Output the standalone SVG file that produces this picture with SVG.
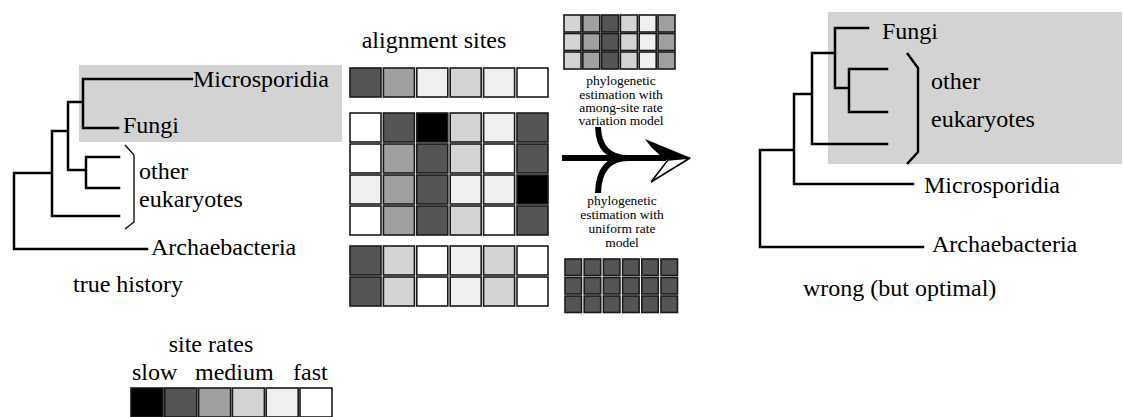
<svg xmlns="http://www.w3.org/2000/svg" width="1124" height="417" viewBox="0 0 1124 417">
<style>
text{font-family:"Liberation Serif","Times New Roman",serif;fill:#000}
.lbl{font-size:24px}
.sm{font-size:13.5px;text-anchor:middle}
.e{fill:none;stroke:#000;stroke-width:2.5;stroke-linecap:square}
.br{fill:none;stroke:#000;stroke-width:1.3}
.brt{fill:none;stroke:#000;stroke-width:2.4}
.hl{fill:#d3d3d3}
rect.c{stroke:#1a1a1a;stroke-width:1.6}
.k0{fill:#000}.k1{fill:#555}.k2{fill:#a0a0a0}.k3{fill:#d4d4d4}.k4{fill:#efefef}.k5{fill:#fff}
</style>

<!-- highlight boxes -->
<rect class="hl" x="79" y="65" width="263" height="77"/>
<rect class="hl" x="828" y="12" width="294" height="152"/>

<!-- connectors -->
<g id="connectors">
  <!-- left tree -->
  <path class="e" d="M83 79H192M83 79V128H118M68 102H83M68 102V170H86M86 157V188M86 157H119M86 188H119M52 131H68M52 131V216H119M14 173H52M14 173V249H147"/>
  <path class="br" d="M125 145L134 155V222L125 229"/>
  <!-- right tree -->
  <path class="e" d="M835 28H868M835 28V88H849M849 69V112M849 69H887M849 112H887M812 53H835M812 53V144H887M794 94H812M794 94V184H913M760 150H794M760 150V247H923"/>
  <path class="brt" d="M907 53L918 68V152L907 164"/>
  <!-- estimation arrow -->
  <g id="arrow">
    <path d="M562 158H666" fill="none" stroke="#000" stroke-width="6"/>
    <path d="M598 127Q599 158 628 158" fill="none" stroke="#000" stroke-width="6"/>
    <path d="M598 193Q599 158 628 158" fill="none" stroke="#000" stroke-width="6"/>
    <polygon points="690,158 651,182 668,160" fill="#fff" stroke="#000" stroke-width="1.6" stroke-linejoin="miter"/>
    <polygon points="645,139 691,158 665,160 651,147" fill="#000"/>
  </g>
</g>

<!-- left tree labels -->
<g id="left-microsporidia"><text class="lbl" x="193" y="87">Microsporidia</text></g>
<g id="left-fungi"><text class="lbl" x="123" y="133">Fungi</text></g>
<g id="left-other-eukaryotes"><text class="lbl" x="139" y="179">other</text><text class="lbl" x="139" y="207">eukaryotes</text></g>
<g id="left-archaebacteria"><text class="lbl" x="151" y="255">Archaebacteria</text></g>
<g id="left-caption"><text class="lbl" x="73" y="292">true history</text></g>

<!-- right tree labels -->
<g id="right-fungi"><text class="lbl" x="882" y="39">Fungi</text></g>
<g id="right-other-eukaryotes"><text class="lbl" x="931" y="89">other</text><text class="lbl" x="931" y="127">eukaryotes</text></g>
<g id="right-microsporidia"><text class="lbl" x="924" y="193">Microsporidia</text></g>
<g id="right-archaebacteria"><text class="lbl" x="932" y="252">Archaebacteria</text></g>
<g id="right-caption"><text class="lbl" x="803" y="296">wrong (but optimal)</text></g>

<!-- alignment grid -->
<g id="alignment">
  <text class="lbl" x="434" y="48" text-anchor="middle">alignment sites</text>
  <g id="row1">
    <rect class="c k1" x="350" y="68" width="31" height="29"/><rect class="c k2" x="383.4" y="68" width="31" height="29"/><rect class="c k4" x="416.8" y="68" width="31" height="29"/><rect class="c k3" x="450.2" y="68" width="31" height="29"/><rect class="c k4" x="483.6" y="68" width="31" height="29"/><rect class="c k5" x="517" y="68" width="31" height="29"/>
  </g>
  <g id="block2">
    <rect class="c k5" x="350" y="113" width="31" height="29"/><rect class="c k1" x="383.4" y="113" width="31" height="29"/><rect class="c k0" x="416.8" y="113" width="31" height="29"/><rect class="c k3" x="450.2" y="113" width="31" height="29"/><rect class="c k4" x="483.6" y="113" width="31" height="29"/><rect class="c k1" x="517" y="113" width="31" height="29"/>
    <rect class="c k5" x="350" y="144" width="31" height="29"/><rect class="c k2" x="383.4" y="144" width="31" height="29"/><rect class="c k1" x="416.8" y="144" width="31" height="29"/><rect class="c k3" x="450.2" y="144" width="31" height="29"/><rect class="c k5" x="483.6" y="144" width="31" height="29"/><rect class="c k1" x="517" y="144" width="31" height="29"/>
    <rect class="c k4" x="350" y="175" width="31" height="29"/><rect class="c k2" x="383.4" y="175" width="31" height="29"/><rect class="c k1" x="416.8" y="175" width="31" height="29"/><rect class="c k4" x="450.2" y="175" width="31" height="29"/><rect class="c k4" x="483.6" y="175" width="31" height="29"/><rect class="c k0" x="517" y="175" width="31" height="29"/>
    <rect class="c k5" x="350" y="206" width="31" height="29"/><rect class="c k2" x="383.4" y="206" width="31" height="29"/><rect class="c k1" x="416.8" y="206" width="31" height="29"/><rect class="c k3" x="450.2" y="206" width="31" height="29"/><rect class="c k5" x="483.6" y="206" width="31" height="29"/><rect class="c k1" x="517" y="206" width="31" height="29"/>
  </g>
  <g id="block3">
    <rect class="c k1" x="350" y="246" width="31" height="29"/><rect class="c k3" x="383.4" y="246" width="31" height="29"/><rect class="c k5" x="416.8" y="246" width="31" height="29"/><rect class="c k4" x="450.2" y="246" width="31" height="29"/><rect class="c k3" x="483.6" y="246" width="31" height="29"/><rect class="c k5" x="517" y="246" width="31" height="29"/>
    <rect class="c k1" x="350" y="277" width="31" height="29"/><rect class="c k3" x="383.4" y="277" width="31" height="29"/><rect class="c k5" x="416.8" y="277" width="31" height="29"/><rect class="c k4" x="450.2" y="277" width="31" height="29"/><rect class="c k3" x="483.6" y="277" width="31" height="29"/><rect class="c k5" x="517" y="277" width="31" height="29"/>
  </g>
</g>

<!-- among-site rate variation model -->
<g id="asrv-model">
  <g id="asrv-grid">
    <rect class="c k3" x="564" y="15" width="17" height="17"/><rect class="c k2" x="582.8" y="15" width="17" height="17"/><rect class="c k1" x="601.6" y="15" width="17" height="17"/><rect class="c k3" x="620.4" y="15" width="17" height="17"/><rect class="c k4" x="639.2" y="15" width="17" height="17"/><rect class="c k2" x="658" y="15" width="17" height="17"/>
    <rect class="c k3" x="564" y="33.5" width="17" height="17"/><rect class="c k2" x="582.8" y="33.5" width="17" height="17"/><rect class="c k1" x="601.6" y="33.5" width="17" height="17"/><rect class="c k3" x="620.4" y="33.5" width="17" height="17"/><rect class="c k4" x="639.2" y="33.5" width="17" height="17"/><rect class="c k2" x="658" y="33.5" width="17" height="17"/>
    <rect class="c k3" x="564" y="52" width="17" height="17"/><rect class="c k2" x="582.8" y="52" width="17" height="17"/><rect class="c k1" x="601.6" y="52" width="17" height="17"/><rect class="c k3" x="620.4" y="52" width="17" height="17"/><rect class="c k4" x="639.2" y="52" width="17" height="17"/><rect class="c k2" x="658" y="52" width="17" height="17"/>
  </g>
  <text class="sm" x="621" y="85">phylogenetic</text>
  <text class="sm" x="621" y="98.5">estimation with</text>
  <text class="sm" x="621" y="112">among-site rate</text>
  <text class="sm" x="621" y="125">variation model</text>
</g>

<!-- uniform rate model -->
<g id="uniform-model">
  <text class="sm" x="622" y="205">phylogenetic</text>
  <text class="sm" x="622" y="219">estimation with</text>
  <text class="sm" x="622" y="233">uniform rate</text>
  <text class="sm" x="622" y="247">model</text>
  <g id="uniform-grid">
    <rect class="c k1" x="565" y="259" width="16.5" height="16.5"/><rect class="c k1" x="584.2" y="259" width="16.5" height="16.5"/><rect class="c k1" x="603.4" y="259" width="16.5" height="16.5"/><rect class="c k1" x="622.6" y="259" width="16.5" height="16.5"/><rect class="c k1" x="641.8" y="259" width="16.5" height="16.5"/><rect class="c k1" x="661" y="259" width="16.5" height="16.5"/>
    <rect class="c k1" x="565" y="277.5" width="16.5" height="16.5"/><rect class="c k1" x="584.2" y="277.5" width="16.5" height="16.5"/><rect class="c k1" x="603.4" y="277.5" width="16.5" height="16.5"/><rect class="c k1" x="622.6" y="277.5" width="16.5" height="16.5"/><rect class="c k1" x="641.8" y="277.5" width="16.5" height="16.5"/><rect class="c k1" x="661" y="277.5" width="16.5" height="16.5"/>
    <rect class="c k1" x="565" y="296" width="16.5" height="16.5"/><rect class="c k1" x="584.2" y="296" width="16.5" height="16.5"/><rect class="c k1" x="603.4" y="296" width="16.5" height="16.5"/><rect class="c k1" x="622.6" y="296" width="16.5" height="16.5"/><rect class="c k1" x="641.8" y="296" width="16.5" height="16.5"/><rect class="c k1" x="661" y="296" width="16.5" height="16.5"/>
  </g>
</g>

<!-- legend -->
<g id="legend">
  <text class="lbl" x="211" y="352" text-anchor="middle">site rates</text>
  <text class="lbl" x="132" y="380">slow</text>
  <text class="lbl" x="195" y="380">medium</text>
  <text class="lbl" x="293" y="380">fast</text>
  <rect class="c k0" x="131" y="388" width="32" height="29"/><rect class="c k1" x="164.8" y="388" width="32" height="29"/><rect class="c k2" x="198.6" y="388" width="32" height="29"/><rect class="c k3" x="232.4" y="388" width="32" height="29"/><rect class="c k4" x="266.2" y="388" width="32" height="29"/><rect class="c k5" x="300" y="388" width="32" height="29"/>
</g>
</svg>
